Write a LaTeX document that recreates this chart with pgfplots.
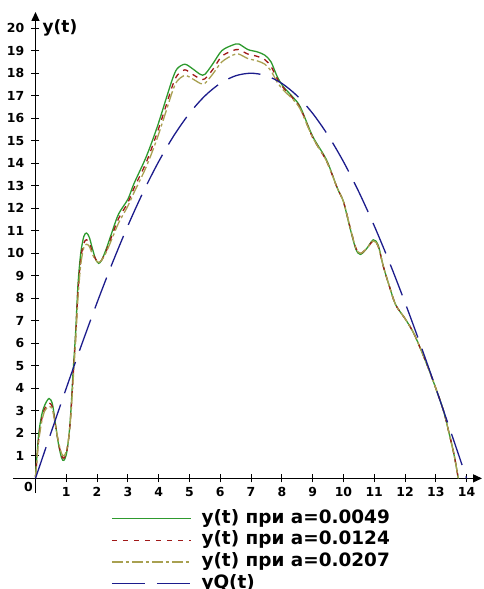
\documentclass[border=0pt]{standalone}
\usepackage{fontspec}
\setmainfont{DejaVu Sans}
\usepackage{pgfplots}
\pgfplotsset{compat=1.18}
\usetikzlibrary{arrows.meta}

\definecolor{cgreen}{HTML}{2E9A2E}
\definecolor{cred}{HTML}{A01818}
\definecolor{colive}{HTML}{A8A050}
\definecolor{cblue}{HTML}{1C1C8C}

% y(t) for a = 0.0049
\pgfplotstableread{
t y
0 0.05
0.1 1.9
0.2 2.8
0.3 3.25
0.44 3.55
0.55 3.3
0.65 2.4
0.75 1.5
0.85 0.9
0.92 0.8
1.0 1.05
1.08 1.8
1.15 3.0
1.22 4.7
1.3 6.4
1.38 8.6
1.47 10.0
1.57 10.75
1.66 10.9
1.75 10.7
1.85 10.2
1.95 9.75
2.05 9.55
2.15 9.7
2.3 10.2
2.5 11.0
2.7 11.75
3.0 12.4
3.2 13.1
3.6 14.3
3.95 15.6
4.25 16.9
4.45 17.75
4.6 18.2
4.85 18.4
5.1 18.2
5.35 17.95
5.5 17.95
5.75 18.4
6.05 19.0
6.4 19.25
6.6 19.3
6.9 19.05
7.2 18.95
7.45 18.8
7.65 18.5
7.85 17.85
8.05 17.4
8.35 16.95
8.6 16.5
9.0 15.2
9.45 14.15
9.8 12.9
10.0 12.3
10.2 11.2
10.4 10.2
10.55 9.95
10.75 10.2
10.97 10.6
11.13 10.35
11.3 9.4
11.5 8.5
11.7 7.7
12.0 7.1
12.3 6.4
12.7 5.1
13.0 4.0
13.25 3.0
13.45 1.9
13.6 1.0
13.73 0.0
}\dataA

% y(t) for a = 0.0124
\pgfplotstableread{
t y
0 0.05
0.1 1.7
0.2 2.6
0.3 3.1
0.44 3.35
0.55 3.15
0.65 2.35
0.75 1.55
0.85 1.0
0.92 0.9
1.0 1.1
1.08 1.8
1.15 2.9
1.22 4.5
1.3 6.2
1.38 8.3
1.47 9.75
1.57 10.45
1.66 10.6
1.75 10.45
1.85 10.05
1.95 9.75
2.05 9.6
2.15 9.7
2.3 10.1
2.5 10.85
2.7 11.55
3.0 12.25
3.2 12.9
3.6 14.05
3.95 15.35
4.25 16.6
4.45 17.45
4.6 17.9
4.85 18.15
5.1 17.95
5.35 17.75
5.5 17.75
5.75 18.15
6.05 18.75
6.4 19.0
6.6 19.05
6.9 18.85
7.2 18.75
7.45 18.6
7.65 18.3
7.85 17.75
8.05 17.35
8.35 16.9
8.6 16.45
9.0 15.15
9.45 14.1
9.8 12.9
10.0 12.3
10.2 11.25
10.4 10.25
10.55 10.0
10.75 10.2
10.97 10.55
11.13 10.3
11.3 9.4
11.5 8.5
11.7 7.7
12.0 7.1
12.3 6.4
12.7 5.1
13.0 4.0
13.25 3.0
13.45 1.9
13.6 1.0
13.73 0.0
}\dataB

% y(t) for a = 0.0207
\pgfplotstableread{
t y
0 0.05
0.1 1.6
0.2 2.5
0.3 3.0
0.44 3.2
0.55 3.05
0.65 2.35
0.75 1.6
0.85 1.1
0.92 1.0
1.0 1.2
1.08 1.8
1.15 2.8
1.22 4.3
1.3 6.0
1.38 8.0
1.47 9.5
1.57 10.25
1.66 10.4
1.75 10.3
1.85 9.95
1.95 9.7
2.05 9.6
2.15 9.7
2.3 10.05
2.5 10.7
2.7 11.35
3.0 12.1
3.2 12.7
3.6 13.85
3.95 15.1
4.25 16.35
4.45 17.2
4.6 17.65
4.85 17.9
5.1 17.75
5.35 17.55
5.5 17.55
5.75 17.95
6.05 18.5
6.4 18.8
6.6 18.85
6.9 18.65
7.2 18.55
7.45 18.4
7.65 18.1
7.85 17.6
8.05 17.25
8.35 16.85
8.6 16.4
9.0 15.15
9.45 14.1
9.8 12.9
10.0 12.3
10.2 11.25
10.4 10.25
10.55 10.0
10.75 10.2
10.97 10.55
11.13 10.3
11.3 9.4
11.5 8.5
11.7 7.7
12.0 7.1
12.3 6.4
12.7 5.1
13.0 4.0
13.25 3.0
13.45 1.9
13.6 1.0
13.73 0.0
}\dataC

% yQ(t)
\pgfplotstableread{
t y
0 0
0.5 2.015
1 4.005
1.5 5.945
2 7.810
2.5 9.577
3 11.223
3.5 12.728
4 14.073
4.5 15.241
5 16.217
5.5 16.990
6 17.549
6.5 17.887
7 18.0
7.5 17.887
8 17.549
8.5 16.990
9 16.217
9.5 15.241
10 14.073
10.5 12.728
11 11.223
11.5 9.577
12 7.810
12.5 5.945
13 4.005
13.5 2.015
14 0
}\dataQ

\begin{document}
\begin{tikzpicture}
\useasboundingbox (-13bp,-96bp) rectangle (471bp,493bp);
\begin{axis}[
  scale only axis,
  width=469bp, height=481bp,
  at={(0,0)}, anchor=south west,
  xmin=-0.73, xmax=14.5,
  ymin=-0.65, ymax=20.72,
  axis lines=middle,
  axis line style={line width=1.3bp, -{Triangle[length=9bp,width=8bp]}},
  xtick={1,...,14}, ytick={1,...,20},
  tick align=center,
  major tick length=8bp,
  tick style={line width=1bp, black},
  /pgf/number format/assume math mode=true,
  ticklabel style={font=\fontsize{12.5}{14}\selectfont\bfseries, inner sep=0pt},
  xticklabel style={anchor=north, yshift=-4.5bp},
  yticklabel style={anchor=east, xshift=-7bp},
  clip=false,
  legend cell align=left,
  legend image code/.code={\draw[#1] (0bp,0bp) -- (79bp,0bp);},
  legend style={draw=none, fill=none, inner sep=0pt,
    at={(0.209,-0.035)}, anchor=north west,
    row sep=4.7bp,
    font=\fontsize{18.5}{20}\selectfont\bfseries,
    nodes={inner sep=0pt, text height=13bp, text depth=4bp},
    /tikz/every odd column/.append style={column sep=10bp}},
]
\addplot[cgreen, line width=1.3bp, smooth] table {\dataA};
\addlegendentry{y(t) при a=0.0049}
\addplot[cred, line width=1.3bp, smooth, dash pattern=on 5.5bp off 5.5bp] table {\dataB};
\addlegendentry{y(t) при a=0.0124}
\addplot[colive, line width=1.3bp, smooth, dash pattern=on 11bp off 3bp on 3bp off 3bp] table {\dataC};
\addlegendentry{y(t) при a=0.0207}
\addplot[cblue, line width=1.3bp, smooth, dash pattern=on 33bp off 12bp] table {\dataQ};
\addlegendentry{yQ(t)}
\node[anchor=north east, inner sep=0pt, font=\fontsize{12.5}{14}\selectfont\bfseries,
  xshift=-2.5bp, yshift=-3.7bp] at (axis cs:0,0) {0};
\node[anchor=west, inner sep=0pt, font=\fontsize{17}{19}\selectfont\bfseries,
  xshift=7bp] at (axis cs:0,20) {y(t)};
\end{axis}
\end{tikzpicture}
\end{document}
